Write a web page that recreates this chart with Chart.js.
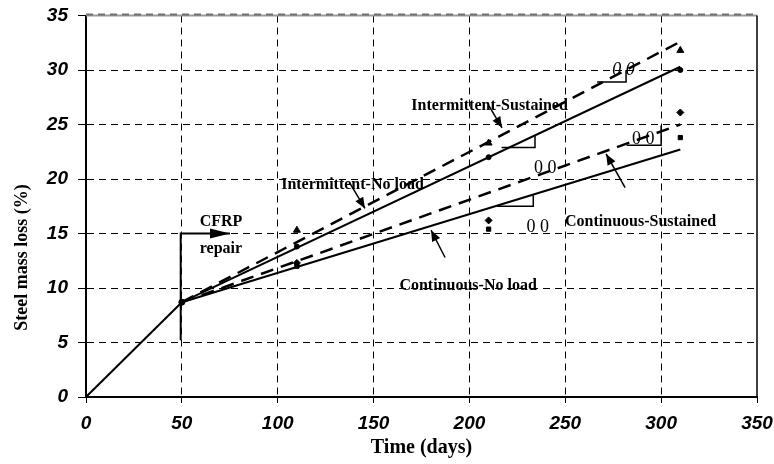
<!DOCTYPE html>
<html><head><meta charset="utf-8">
<script src="https://cdn.jsdelivr.net/npm/chart.js@4.4.0/dist/chart.umd.min.js"></script>
<style>html,body{margin:0;padding:0;background:#fff}#wrap{width:774px;height:464px}</style>
</head><body><div id="wrap"><canvas id="c" width="774" height="464"></canvas></div>
<script>
// ---- data ----
const xTicks = [0, 50, 100, 150, 200, 250, 300, 350];
const yTicks = [0, 5, 10, 15, 20, 25, 30, 35];
const preRepair   = [[0, 0], [50, 8.7]];
const fitIntSust  = [[50, 8.7], [310, 32.6]];
const fitIntNo    = [[50, 8.7], [310, 30.3]];
const fitContSust = [[50, 8.7], [310, 25.0]];
const fitContNo   = [[50, 8.7], [310, 22.7]];
const days      = [110, 210, 310];
const intSust   = [15.3, 23.3, 31.8];
const intNo     = [13.8, 22.0, 30.0];
const contSust  = [12.3, 16.2, 26.1];
const contNo    = [12.0, 15.4, 23.8];
const repairPoint = [[50, 8.7]];
const xTitle = 'Time (days)';
const yTitle = 'Steel mass loss (%)';

// ---- annotations (data units) ----
const labels = [
  {text: 'Intermittent-Sustained', x: 210.5, y: 26.7},
  {text: 'Intermittent-No load',  x: 139.0, y: 19.5},
  {text: 'Continuous-Sustained',  x: 289.3, y: 16.1},
  {text: 'Continuous-No load',    x: 199.3, y: 10.2},
  {text: 'CFRP',                  x: 70.4,  y: 16.1},
  {text: 'repair',                x: 70.4,  y: 13.6}
];
const arrows = [
  {from: [210.2, 26.7], to: [217.0, 24.7]},
  {from: [137.7, 19.6], to: [145.5, 17.3]},
  {from: [187.3, 12.8], to: [180.0, 15.3]},
  {from: [281.2, 19.2], to: [271.3, 22.3]}
];
const slopeMarks = [
  [[266.6, 28.9], [281.7, 28.9], [281.7, 30.0]],
  [[216.8, 22.9], [234.2, 22.9], [234.2, 24.0]],
  [[214.2, 17.5], [233.3, 17.5], [233.3, 18.5]],
  [[282.0, 23.1], [300.0, 23.1], [300.0, 24.9]]
];
const slopeTexts = [
  {text: '0 0', x: 280.3, y: 30.0, italic: true},
  {text: '0 0', x: 290.7, y: 23.6, italic: false},
  {text: '0 0', x: 239.6, y: 21.0, italic: false},
  {text: '0 0', x: 235.6, y: 15.6, italic: false}
];
const repairArrow = [[49.4, 5.2], [49.4, 15.0], [75.1, 15.0]];

const serif = "'Liberation Serif','Times New Roman',serif";
const sans = "'Liberation Sans',Arial,sans-serif";

const pairs = a => a.map(p => ({x: p[0], y: p[1]}));
const pts = (xs, ys) => xs.map((x, i) => ({x: x, y: ys[i]}));

function lineDs(label, data, dashed, w) {
  return {label, data: pairs(data), showLine: true, borderColor: '#000', backgroundColor: '#000',
    borderWidth: w, borderDash: dashed ? [13, 8] : [], pointRadius: 0, pointHoverRadius: 0,
    tension: 0, fill: false};
}
function markDs(label, ys, style, r) {
  return {label, data: pts(days, ys), showLine: false, pointStyle: style, pointRadius: r,
    pointHoverRadius: r, backgroundColor: '#000', borderColor: '#000', borderWidth: 1};
}

function arrowHead(ctx, x1, y1, x2, y2, len, half) {
  const a = Math.atan2(y2 - y1, x2 - x1);
  ctx.beginPath();
  ctx.moveTo(x2, y2);
  ctx.lineTo(x2 - len * Math.cos(a) + half * Math.sin(a), y2 - len * Math.sin(a) - half * Math.cos(a));
  ctx.lineTo(x2 - len * Math.cos(a) - half * Math.sin(a), y2 - len * Math.sin(a) + half * Math.cos(a));
  ctx.closePath();
  ctx.fill();
}

const annot = {
  id: 'annot',
  afterDatasetsDraw(chart) {
    const {ctx, scales: {x, y}} = chart;
    const X = v => x.getPixelForValue(v), Y = v => y.getPixelForValue(v);
    ctx.save();
    // frame top (grey) and right (black)
    ctx.setLineDash([]);
    ctx.strokeStyle = '#9a9a9a'; ctx.lineWidth = 2;
    ctx.beginPath(); ctx.moveTo(X(0), Y(35)); ctx.lineTo(X(350), Y(35)); ctx.stroke();
    ctx.strokeStyle = '#707070'; ctx.lineWidth = 2; ctx.setLineDash([7, 5]);
    ctx.beginPath(); ctx.moveTo(X(0), Y(35) - 1); ctx.lineTo(X(350), Y(35) - 1); ctx.stroke();
    ctx.setLineDash([]);
    ctx.strokeStyle = '#000'; ctx.lineWidth = 1.5;
    ctx.beginPath(); ctx.moveTo(X(350), Y(35)); ctx.lineTo(X(350), Y(0)); ctx.stroke();

    // repair arrow
    ctx.strokeStyle = '#000'; ctx.fillStyle = '#000'; ctx.lineWidth = 2;
    ctx.beginPath();
    repairArrow.forEach((p, i) => i ? ctx.lineTo(X(p[0]), Y(p[1])) : ctx.moveTo(X(p[0]), Y(p[1])));
    ctx.stroke();
    const ra = repairArrow[repairArrow.length - 1], rb = repairArrow[repairArrow.length - 2];
    arrowHead(ctx, X(rb[0]), Y(rb[1]), X(ra[0]), Y(ra[1]), 20, 5);

    // slope marks
    ctx.lineWidth = 1.5;
    slopeMarks.forEach(m => {
      ctx.beginPath();
      m.forEach((p, i) => i ? ctx.lineTo(X(p[0]), Y(p[1])) : ctx.moveTo(X(p[0]), Y(p[1])));
      ctx.stroke();
    });

    // arrows
    ctx.lineWidth = 1.5;
    arrows.forEach(a => {
      const x1 = X(a.from[0]), y1 = Y(a.from[1]), x2 = X(a.to[0]), y2 = Y(a.to[1]);
      ctx.beginPath(); ctx.moveTo(x1, y1); ctx.lineTo(x2, y2); ctx.stroke();
      arrowHead(ctx, x1, y1, x2, y2, 11, 4.5);
    });

    // labels
    ctx.textAlign = 'center'; ctx.textBaseline = 'middle';
    ctx.font = 'bold 16px ' + serif;
    labels.forEach(l => ctx.fillText(l.text, X(l.x), Y(l.y)));
    slopeTexts.forEach(t => {
      ctx.font = (t.italic ? 'italic ' : '') + '18px ' + serif;
      ctx.fillText(t.text, X(t.x), Y(t.y));
    });

    // y axis title (placed lower than centre, as in the original)
    ctx.save();
    ctx.translate(22, Y(12.8));
    ctx.rotate(-Math.PI / 2);
    ctx.font = 'bold 18px ' + serif;
    ctx.textAlign = 'center'; ctx.textBaseline = 'middle';
    ctx.fillText(yTitle, 0, 0);
    ctx.restore();
    ctx.restore();
  }
};

new Chart(document.getElementById('c'), {
  type: 'scatter',
  data: {
    datasets: [
      lineDs('Pre-repair', preRepair, false, 2),
      lineDs('Intermittent-Sustained fit', fitIntSust, true, 2.5),
      lineDs('Intermittent-No load fit', fitIntNo, false, 2),
      lineDs('Continuous-Sustained fit', fitContSust, true, 2.5),
      lineDs('Continuous-No load fit', fitContNo, false, 2),
      markDs('Intermittent-Sustained', intSust, 'triangle', 4),
      markDs('Intermittent-No load', intNo, 'circle', 2.5),
      markDs('Continuous-Sustained', contSust, 'rectRot', 3.5),
      markDs('Continuous-No load', contNo, 'rect', 3),
      {label: 'Repair', data: pairs(repairPoint), showLine: false, pointStyle: 'circle', pointRadius: 3,
       backgroundColor: '#000', borderColor: '#000'}
    ]
  },
  options: {
    responsive: false, animation: false, devicePixelRatio: 1,
    layout: {padding: {top: 15.5, right: 17, left: 0, bottom: 0}},
    plugins: {legend: {display: false}, tooltip: {enabled: false}},
    scales: {
      x: {
        type: 'linear', min: 0, max: 350,
        afterBuildTicks: s => { s.ticks = xTicks.map(v => ({value: v})); },
        afterFit: s => { s.height = 67; s.paddingLeft = 0; s.paddingRight = 0; },
        grid: {color: c => (c.tick && c.tick.value === 350) ? 'rgba(0,0,0,0)' : '#000', lineWidth: 1,
               tickLength: 6, tickColor: '#000', tickWidth: 1, tickBorderDash: []},
        border: {display: true, color: '#000', width: 2, dash: [7, 5]},
        ticks: {color: '#000', padding: 9, maxRotation: 0, font: {family: sans, size: 19, weight: 'bold', style: 'italic'}},
        title: {display: true, text: xTitle, color: '#000', padding: {top: 0, bottom: 4},
                font: {family: serif, size: 20, weight: 'bold'}}
      },
      y: {
        type: 'linear', min: 0, max: 35,
        afterBuildTicks: s => { s.ticks = yTicks.map(v => ({value: v})); },
        afterFit: s => { s.width = 86; s.paddingTop = 0; s.paddingBottom = 0; },
        grid: {color: c => (c.tick && c.tick.value === 35) ? 'rgba(0,0,0,0)' : '#000', lineWidth: 1,
               tickLength: 8, tickColor: '#000', tickWidth: 1, tickBorderDash: []},
        border: {display: true, color: '#000', width: 2, dash: [7, 5]},
        ticks: {color: '#000', padding: 10, font: {family: sans, size: 19, weight: 'bold', style: 'italic'}},
        title: {display: false, text: yTitle}
      }
    }
  },
  plugins: [annot]
});
</script>
</body></html>
